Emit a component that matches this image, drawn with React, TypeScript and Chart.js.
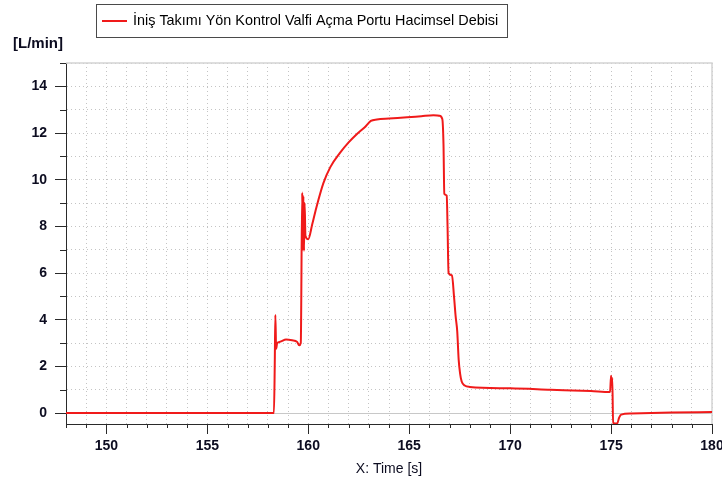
import React, { useEffect, useRef } from 'react';
import { Chart, registerables } from 'chart.js';

Chart.register(...registerables);

const seriesLabel = 'İniş Takımı Yön Kontrol Valfi Açma Portu Hacimsel Debisi';
const yUnitLabel = '[L/min]';
const xAxisTitle = 'X: Time [s]';

const timeValues = [
  148, 158.3, 158.34, 158.37, 158.41, 158.46, 158.6, 158.9, 159.2, 159.45, 159.55, 159.63,
  159.7, 159.73, 159.76, 159.79, 159.82, 159.86, 160.0, 160.2, 160.4, 160.75, 161.1, 161.57, 162.0,
  162.4, 162.8, 163.1, 163.4, 164.0, 164.9, 165.6, 166.2, 166.5, 166.64, 166.7, 166.74,
  166.86, 166.9, 166.95, 167.12, 167.22, 167.3, 167.38, 167.45, 167.52, 167.6, 167.75, 168.0,
  170, 172, 174, 174.95, 175.0, 175.03, 175.06, 175.1, 175.3, 175.4, 175.5, 176, 178, 180,
];

const flowValues = [
  0, 0, 2.0, 4.2, 2.75, 3.0, 3.05, 3.15, 3.12, 3.05, 2.9, 3.0,
  9.45, 7.0, 9.3, 6.95, 9.0, 7.6, 7.45, 8.1, 8.8, 9.85, 10.55, 11.15, 11.6,
  11.95, 12.25, 12.52, 12.58, 12.62, 12.67, 12.72, 12.76, 12.74, 12.6, 11.5, 9.4,
  9.32, 8.0, 6.0, 5.9, 5.0, 4.15, 3.5, 2.3, 1.7, 1.35, 1.18, 1.12,
  1.06, 1.0, 0.94, 0.9, 1.6, 1.2, 1.5, -0.42, -0.45, -0.2, -0.07, -0.02, 0.02, 0.04,
];

const xMin = 148;
const xMax = 180;
const yMin = -0.47;
const yMax = 15;
const xMajorStep = 5;
const yMajorStep = 2;

const FONT = "'Liberation Sans', Arial, sans-serif";
const LINE_COLOR = '#f01a1a';
const AXIS_COLOR = '#2a2a2a';
const GRID_COLOR = '#c4c4c4';
const TEXT_COLOR = '#0c0c20';

const decorPlugin = {
  id: 'decor',
  beforeDatasetsDraw(chart: any) {
    const { ctx, chartArea: a, scales } = chart;
    const y0 = Math.round(scales.y.getPixelForValue(0)) + 0.5;
    ctx.save();
    ctx.strokeStyle = '#c8c8c8';
    ctx.lineWidth = 1;
    ctx.beginPath();
    ctx.moveTo(a.left, y0);
    ctx.lineTo(a.right, y0);
    ctx.stroke();
    ctx.strokeStyle = '#d4d4d4';
    ctx.lineWidth = 1.5;
    ctx.beginPath();
    ctx.moveTo(a.left, a.top);
    ctx.lineTo(a.right, a.top);
    ctx.lineTo(a.right, a.bottom);
    ctx.stroke();
    ctx.restore();
  },
  afterDraw(chart: any) {
    const { ctx, chartArea: a, scales } = chart;
    ctx.save();
    ctx.strokeStyle = AXIS_COLOR;
    ctx.lineWidth = 1;
    ctx.beginPath();
    scales.y.ticks.forEach((t: any) => {
      if (t.value % yMajorStep !== 0) {
        const py = Math.round(scales.y.getPixelForValue(t.value)) + 0.5;
        ctx.moveTo(a.left - 6, py);
        ctx.lineTo(a.left, py);
      }
    });
    scales.x.ticks.forEach((t: any) => {
      if (t.value % xMajorStep !== 0) {
        const px = Math.round(scales.x.getPixelForValue(t.value)) + 0.5;
        ctx.moveTo(px, a.bottom);
        ctx.lineTo(px, a.bottom + 4);
      }
    });
    ctx.stroke();

    ctx.fillStyle = TEXT_COLOR;
    ctx.font = `bold 15px ${FONT}`;
    ctx.textAlign = 'left';
    ctx.textBaseline = 'middle';
    ctx.fillText(yUnitLabel, 13, 44);

    ctx.fillStyle = '#ffffff';
    ctx.fillRect(97, 5, 410, 32);
    ctx.strokeStyle = '#4a4a4a';
    ctx.lineWidth = 1;
    ctx.strokeRect(96.5, 4.5, 411, 33);
    ctx.strokeStyle = LINE_COLOR;
    ctx.lineWidth = 2;
    ctx.beginPath();
    ctx.moveTo(102, 21);
    ctx.lineTo(127, 21);
    ctx.stroke();
    ctx.fillStyle = '#000000';
    ctx.font = `14.4px ${FONT}`;
    ctx.fillText(seriesLabel, 133, 21);
    ctx.restore();
  },
};

export default function App() {
  const canvasRef = useRef<HTMLCanvasElement | null>(null);

  useEffect(() => {
    const canvas = canvasRef.current;
    if (!canvas) return;
    const points = timeValues.map((t, i) => ({ x: t, y: flowValues[i] }));
    const chart = new Chart(canvas, {
      type: 'line',
      data: {
        datasets: [
          {
            label: seriesLabel,
            data: points,
            borderColor: LINE_COLOR,
            backgroundColor: LINE_COLOR,
            borderWidth: 2,
            pointRadius: 0,
            cubicInterpolationMode: 'monotone',
            fill: false,
          },
        ],
      },
      options: {
        animation: false,
        responsive: false,
        maintainAspectRatio: false,
        devicePixelRatio: 1,
        layout: { padding: { top: 63, right: 10, left: 0, bottom: 0 } },
        plugins: {
          legend: { display: false },
          tooltip: { enabled: false },
        },
        scales: {
          x: {
            type: 'linear',
            min: xMin,
            max: xMax,
            afterFit: (s: any) => {
              s.height = 57;
              s.paddingLeft = 0;
              s.paddingRight = 0;
            },
            ticks: {
              stepSize: 1,
              autoSkip: false,
              maxRotation: 0,
              includeBounds: false,
              padding: 4,
              color: TEXT_COLOR,
              font: { family: FONT, size: 14, weight: 'bold' },
              callback: (v: any) => (Number(v) % xMajorStep === 0 ? String(v) : ''),
            },
            grid: {
              color: GRID_COLOR,
              lineWidth: 1,
              tickLength: 10,
              tickColor: (c: any) =>
                c.tick && c.tick.value % xMajorStep === 0 ? AXIS_COLOR : 'rgba(0,0,0,0)',
            },
            border: { display: true, color: AXIS_COLOR, width: 1, dash: [1, 3] },
            title: {
              display: true,
              text: xAxisTitle,
              color: TEXT_COLOR,
              font: { family: FONT, size: 14 },
              padding: { top: 0, bottom: 3 },
            },
          },
          y: {
            type: 'linear',
            min: yMin,
            max: yMax,
            afterFit: (s: any) => {
              s.width = 66;
              s.paddingTop = 0;
              s.paddingBottom = 0;
            },
            ticks: {
              stepSize: 1,
              autoSkip: false,
              includeBounds: false,
              padding: 8,
              color: TEXT_COLOR,
              font: { family: FONT, size: 14, weight: 'bold' },
              callback: (v: any) => (Number(v) % yMajorStep === 0 ? String(v) : ''),
            },
            grid: {
              color: GRID_COLOR,
              lineWidth: 1,
              tickLength: 11,
              tickColor: (c: any) =>
                c.tick && c.tick.value % yMajorStep === 0 ? AXIS_COLOR : 'rgba(0,0,0,0)',
            },
            border: { display: true, color: AXIS_COLOR, width: 1, dash: [1, 3] },
          },
        },
      },
      plugins: [decorPlugin],
    } as any);
    return () => chart.destroy();
  }, []);

  return (
    <div style={{ position: 'fixed', left: 0, top: 0, width: 722, height: 481, background: '#fff' }}>
      <canvas ref={canvasRef} width={722} height={481} style={{ display: 'block' }} />
    </div>
  );
}
